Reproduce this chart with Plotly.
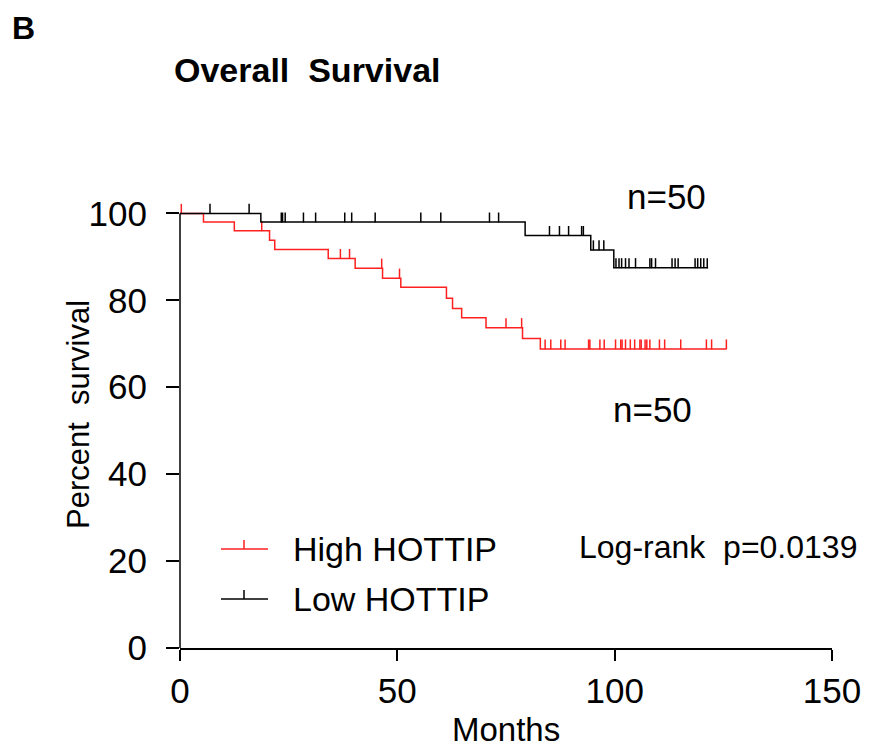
import plotly.graph_objects as go

# ---------------- data ----------------
low_drop_t = [18.6, 79.4, 94.5, 99.8]
low_drop_s = [98.0, 94.9, 91.6, 87.5]
low_end = 121.5
low_cens = [6.9, 15.9,
            23.3, 23.6, 24.2, 28.4, 31.2, 37.9, 39.5, 44.9, 55.4, 60.0, 71.2, 73.3,
            85.0, 87.3, 89.4, 92.4, 92.8,
            95.1, 96.4, 97.5,
            100.3, 101.0, 101.6, 102.5, 103.3, 104.8, 108.1, 108.5, 109.4,
            113.2, 113.9, 114.6, 118.5, 119.1, 119.8, 120.5, 121.3]

high_drop_t = [5.4, 12.5, 20.6, 21.8, 34.1, 40.3, 46.6, 50.8, 61.3, 62.7, 64.8, 70.4, 78.8, 82.9]
high_drop_s = [98.0, 96.0, 93.8, 91.7, 89.6, 87.4, 85.1, 83.0, 80.5, 78.1, 76.0, 73.7, 71.2, 68.8]
high_end = 125.7
high_cens = [0.3, 18.8, 36.9, 39.0, 46.4, 50.5, 75.0, 78.6,
             84.0, 85.3, 87.6, 88.6, 94.0, 94.3, 96.6, 97.6, 100.2, 101.4, 101.7,
             102.5, 103.6, 104.6, 105.8, 106.1, 107.0, 107.4, 108.1, 110.3, 111.5,
             115.2, 121.1, 122.3, 125.7]

x_ticks = [0, 50, 100, 150]
y_ticks = [0, 20, 40, 60, 80, 100]
series_names = ["High HOTTIP", "Low HOTTIP"]
n_labels = ["n=50", "n=50"]
pval_text = "Log-rank  p=0.0139"

# ---------------- layout helpers ----------------
W, H = 874, 748
ML, MR, MT, MB = 180, 42, 196, 100
XMAX, YMAX = 150, 104
PW, PH = W - ML - MR, H - MT - MB
RED, BLACK = "#ff2020", "#000000"
FONT = "Liberation Sans, Arial, sans-serif"
TICK_H = 2.2  # censor tick height in data units


def px_x(px):
    return (px - ML) / PW


def px_y(py):
    return (H - MB - py) / PH


def step_xy(t, s, end):
    return [0] + list(t) + [end], [100] + list(s) + [s[-1]]


def level_at(t_list, s_list, t):
    lev = 100
    for ti, si in zip(t_list, s_list):
        if ti <= t:
            lev = si
    return lev


fig = go.Figure()

groups = [
    (high_drop_t, high_drop_s, high_end, high_cens, RED),
    (low_drop_t, low_drop_s, low_end, low_cens, BLACK),
]
for dt, ds, end, cens, col in groups:
    xs, ys = step_xy(dt, ds, end)
    fig.add_trace(go.Scatter(x=xs, y=ys, mode="lines",
                             line=dict(shape="hv", color=col, width=1.5),
                             showlegend=False, hoverinfo="skip"))
    cy = [level_at(dt, ds, c) for c in cens]
    fig.add_trace(go.Scatter(x=cens, y=cy, mode="markers",
                             marker=dict(size=1, color=col),
                             error_y=dict(type="data", symmetric=False,
                                          array=[TICK_H] * len(cens),
                                          arrayminus=[0] * len(cens),
                                          width=0, thickness=1.5, color=col),
                             cliponaxis=False, showlegend=False, hoverinfo="skip"))

shapes = []
# y axis line (ends at 100)
shapes.append(dict(type="line", xref="paper", yref="paper", x0=0, x1=0,
                   y0=0, y1=100 / YMAX, line=dict(color=BLACK, width=1.5)))

annotations = []
# custom legend
leg_rows = [(549, RED), (599, BLACK)]
for (py, col), name in zip(leg_rows, series_names):
    shapes.append(dict(type="line", xref="paper", yref="paper",
                       x0=px_x(221), x1=px_x(268), y0=px_y(py), y1=px_y(py),
                       line=dict(color=col, width=1.5)))
    shapes.append(dict(type="line", xref="paper", yref="paper",
                       x0=px_x(244), x1=px_x(244), y0=px_y(py), y1=px_y(py - 9),
                       line=dict(color=col, width=1.5)))
    annotations.append(dict(xref="paper", yref="paper", x=px_x(291), y=px_y(py),
                            text=name, showarrow=False, xanchor="left", yanchor="middle",
                            font=dict(family=FONT, size=34, color="black")))

annotations += [
    dict(xref="x", yref="y", x=112.0, y=104.0, text=n_labels[1], showarrow=False,
         xanchor="center", yanchor="middle", font=dict(family=FONT, size=35, color="black")),
    dict(xref="x", yref="y", x=108.8, y=54.8, text=n_labels[0], showarrow=False,
         xanchor="center", yanchor="middle", font=dict(family=FONT, size=35, color="black")),
    dict(xref="x", yref="y", x=123.8, y=23.2, text=pval_text, showarrow=False,
         xanchor="center", yanchor="middle", font=dict(family=FONT, size=32, color="black")),
    dict(xref="paper", yref="paper", x=0.5, y=px_y(729), text="Months", showarrow=False,
         xanchor="center", yanchor="middle", font=dict(family=FONT, size=33, color="black")),
    dict(xref="paper", yref="paper", x=px_x(78), y=px_y(414), text="Percent  survival",
         showarrow=False, textangle=-90, xanchor="center", yanchor="middle",
         font=dict(family=FONT, size=31, color="black")),
    dict(xref="paper", yref="paper", x=px_x(172), y=px_y(70), text="<b>Overall  Survival</b>",
         showarrow=False, xanchor="left", yanchor="middle",
         font=dict(family=FONT, size=34, color="black")),
    dict(xref="paper", yref="paper", x=px_x(10), y=px_y(28), text="<b>B</b>",
         showarrow=False, xanchor="left", yanchor="middle",
         font=dict(family=FONT, size=32, color="black")),
]

fig.update_layout(
    width=W, height=H,
    margin=dict(l=ML, r=MR, t=MT, b=MB, pad=0),
    paper_bgcolor="white", plot_bgcolor="white",
    showlegend=False,
    shapes=shapes, annotations=annotations,
    xaxis=dict(range=[0, XMAX], tickvals=x_ticks, showline=True, linecolor=BLACK,
               linewidth=1.5, ticks="outside", ticklen=11, tickwidth=1.5, tickcolor=BLACK,
               showgrid=False, zeroline=False, ticklabelstandoff=0,
               tickfont=dict(family=FONT, size=35, color="black")),
    yaxis=dict(range=[0, YMAX], tickvals=y_ticks, showline=False, ticks="outside",
               ticklen=13, tickwidth=1.5, tickcolor=BLACK, showgrid=False, zeroline=False,
               ticklabelstandoff=12, tickfont=dict(family=FONT, size=35, color="black")),
)

fig.write_html("out.html")
